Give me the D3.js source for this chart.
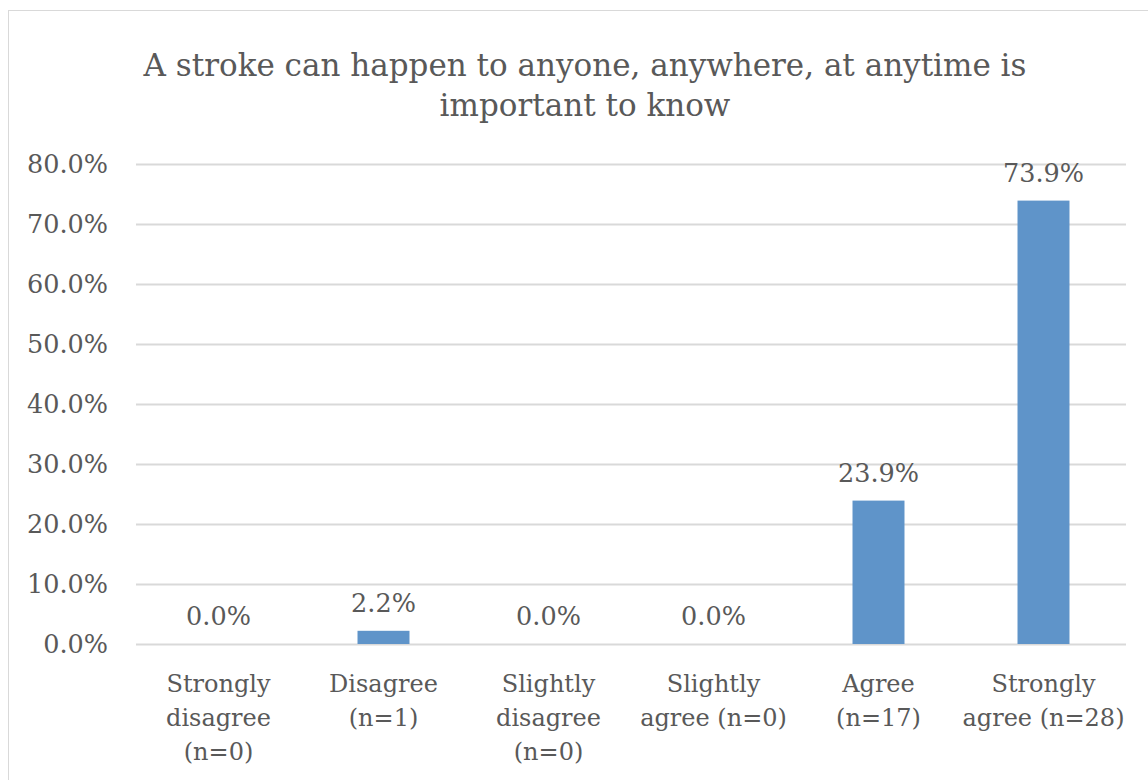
<!DOCTYPE html>
<html>
<head>
<meta charset="utf-8">
<script src="https://cdn.jsdelivr.net/npm/d3@7"></script>
<style>
  html, body { margin: 0; padding: 0; background: #fff; }
  svg text { font-family: "DejaVu Serif", "Liberation Serif", serif; fill: #595959; }
</style>
</head>
<body>
<svg id="chart" width="1148" height="780"></svg>
<script>
// Response categories, with the line breaks used under the axis
const categories = [
  "Strongly disagree (n=0)",
  "Disagree (n=1)",
  "Slightly disagree (n=0)",
  "Slightly agree (n=0)",
  "Agree (n=17)",
  "Strongly agree (n=28)"
];
const categoryLines = [
  ["Strongly", "disagree", "(n=0)"],
  ["Disagree", "(n=1)"],
  ["Slightly", "disagree", "(n=0)"],
  ["Slightly", "agree (n=0)"],
  ["Agree", "(n=17)"],
  ["Strongly", "agree (n=28)"]
];
// Share of respondents (%)
const values = [0.0, 2.2, 0.0, 0.0, 23.9, 73.9];
const yTicks = [0, 10, 20, 30, 40, 50, 60, 70, 80];
const titleLines = ["A stroke can happen to anyone, anywhere, at anytime is", "important to know"];

const svg = d3.select("#chart");
const W = 1148, H = 780;
const plot = { left: 136, right: 1126, top: 164, bottom: 644 };

// outer chart frame
svg.append("rect")
  .attr("x", 8.5).attr("y", 10.5)
  .attr("width", W + 10).attr("height", H + 10)
  .attr("fill", "#fff").attr("stroke", "#d9d9d9").attr("stroke-width", 1);

const x = d3.scaleBand().domain(categories).range([plot.left, plot.right]).paddingInner(0.685).paddingOuter(0.3425);
const y = d3.scaleLinear().domain([0, 80]).range([plot.bottom, plot.top]);

// title
svg.append("text")
  .attr("text-anchor", "middle")
  .attr("font-size", 31)
  .selectAll("tspan").data(titleLines).join("tspan")
  .attr("x", 585).attr("y", (d, i) => 76 + i * 40)
  .text(d => d);

// gridlines
svg.append("g").selectAll("line").data(yTicks).join("line")
  .attr("x1", plot.left).attr("x2", plot.right)
  .attr("y1", d => Math.round(y(d)) + 0.5).attr("y2", d => Math.round(y(d)) + 0.5)
  .attr("stroke", "#d9d9d9").attr("stroke-width", 2);

// y axis labels
const yAxis = d3.axisLeft(y).tickValues(yTicks).tickSize(0).tickPadding(0)
  .tickFormat(d => d3.format(".1f")(d) + "%");
svg.append("g").attr("transform", `translate(108,0)`).call(yAxis)
  .call(g => g.select(".domain").remove())
  .selectAll("text").attr("font-size", 25.5).attr("fill", "#595959")
  .attr("font-family", "DejaVu Serif, Liberation Serif, serif");

// bars
svg.append("g").selectAll("rect").data(values).join("rect")
  .attr("x", (d, i) => x(categories[i]))
  .attr("width", x.bandwidth())
  .attr("y", d => y(d))
  .attr("height", d => y(0) - y(d))
  .attr("fill", "#5f94c9");

// value labels
svg.append("g").selectAll("text").data(values).join("text")
  .attr("text-anchor", "middle")
  .attr("font-size", 25.5)
  .attr("fill", "#404040")
  .attr("x", (d, i) => x(categories[i]) + x.bandwidth() / 2)
  .attr("y", d => y(d) - 19)
  .text(d => d3.format(".1f")(d) + "%");

// category labels
const xg = svg.append("g");
categoryLines.forEach((lines, i) => {
  const t = xg.append("text").attr("text-anchor", "middle").attr("font-size", 24);
  t.selectAll("tspan").data(lines).join("tspan")
    .attr("x", x(categories[i]) + x.bandwidth() / 2)
    .attr("y", (d, j) => 692 + j * 34)
    .text(d => d);
});
</script>
</body>
</html>
